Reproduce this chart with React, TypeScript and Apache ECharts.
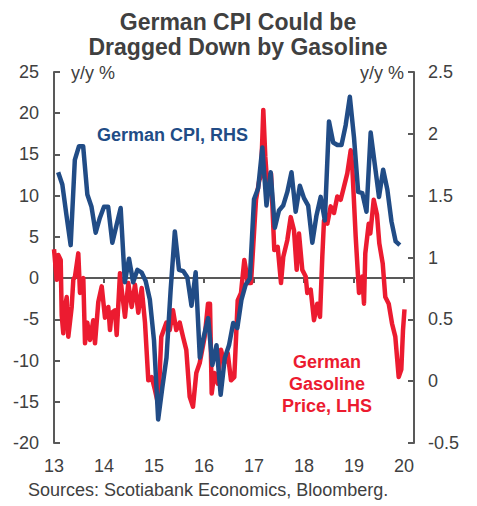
import React, { useEffect, useRef } from 'react';
import * as echarts from 'echarts';

const FONT = '"Liberation Sans", Arial, Helvetica, sans-serif';
const BLUE = '#214C86';
const RED = '#EC1B30';
const AXIS = '#595959';
const TEXT = '#404040';

// Monthly German CPI y/y % (RHS), Jan 2013 .. Nov 2019
const cpiValues = [
  1.69, 1.59, 1.34, 1.10, 1.79, 1.90, 1.90, 1.51, 1.41, 1.20, 1.32, 1.41,
  1.41, 1.12, 1.26, 1.40, 0.80, 0.99, 0.80, 0.90, 0.88, 0.81, 0.66, 0.33,
  -0.31, -0.05, 0.19, 0.74, 1.21, 0.90, 0.89, 0.84, 0.61, 0.88, 0.19, 0.37,
  0.51, 0.13, 0.29, -0.11, 0.19, 0.29, 0.47, 0.43, 0.66, 0.78, 0.83, 1.47,
  1.56, 1.89, 1.42, 1.69, 1.24, 1.38, 1.42, 1.53, 1.69, 1.37, 1.58, 1.48,
  1.42, 1.12, 1.34, 1.49, 1.30, 2.10, 1.93, 1.91, 1.91, 2.07, 2.30, 1.97,
  1.53, 1.52, 1.37, 2.01, 1.75, 1.49, 1.71, 1.55, 1.29, 1.13, 1.10,
];

// German gasoline price y/y % (LHS)
const gasDates = [
  13.0, 13.054, 13.086, 13.134, 13.154, 13.186, 13.22, 13.254, 13.286, 13.354,
  13.386, 13.42, 13.486, 13.52, 13.554, 13.586, 13.62, 13.666, 13.72, 13.786,
  13.82, 13.886, 13.954, 14.02, 14.086, 14.12, 14.154, 14.22, 14.254, 14.32,
  14.354, 14.42, 14.486, 14.554, 14.62, 14.686, 14.754, 14.82, 14.886, 14.954,
  15.02, 15.086, 15.146, 15.246, 15.314, 15.38, 15.446, 15.514, 15.58, 15.646,
  15.714, 15.78, 15.846, 15.914, 16.014, 16.08, 16.12, 16.154, 16.206, 16.274,
  16.34, 16.406, 16.474, 16.54, 16.606, 16.674, 16.74, 16.806, 16.84, 16.874,
  16.94, 17.04, 17.106, 17.14, 17.186, 17.226, 17.274, 17.34, 17.406, 17.474,
  17.54, 17.586, 17.666, 17.734, 17.8, 17.854, 17.9, 17.966, 18.034, 18.066,
  18.134, 18.2, 18.266, 18.32, 18.366, 18.4, 18.466, 18.534, 18.6, 18.666,
  18.734, 18.8, 18.866, 18.934, 18.966, 19.034, 19.1, 19.166, 19.2, 19.226,
  19.294, 19.326, 19.36, 19.394, 19.46, 19.506, 19.574, 19.626, 19.694, 19.76,
  19.826, 19.894, 19.946, 19.98, 20.01,
];
const gasValues = [
  3.5, -0.2, 2.8, 2.2, -4.5, -6.7, -3.5, -2.3, -7.1, -3.5,
  -0.2, 0.2, 3.0, -1.8, -0.6, 0.0, -7.9, -5.4, -7.5, -5.1,
  -7.9, -2.9, -1.0, -4.8, -3.5, -6.3, -4.2, -3.9, -6.9, 0.6,
  -1.4, -4.7, -0.6, -3.5, -0.8, -4.2, -1.2, -5.4, -12.4, -12.0,
  -13.6, -15.4, -7.1, -5.4, -6.3, -3.9, -6.3, -5.4, -7.1, -8.7,
  -14.4, -15.6, -11.5, -10.3, -7.1, -3.1, -3.1, -14.0, -11.5, -12.8,
  -8.7, -10.3, -9.1, -12.4, -12.0, -2.7, -1.8, 2.2, 1.0, -0.6,
  -0.6, 9.5, 11.9, 12.3, 20.4, 14.7, 10.7, 12.7, 3.4, 3.8,
  -0.6, 2.6, 4.6, 7.4, 5.8, 1.0, 5.4, 1.0, 0.2, -1.8,
  -1.4, -5.1, -3.1, -4.7, 2.6, 7.0, 6.6, 8.7, 7.9, 9.9,
  9.5, 11.1, 12.7, 15.5, 13.5, 5.0, -1.8, 0.2, -3.1, 3.0,
  6.6, 5.4, 7.4, 9.5, 7.7, 4.2, 1.8, -2.3, -3.1, -5.5,
  -7.1, -12.0, -11.1, -6.3, -3.8,
];

const titleLines = ['German CPI Could be', 'Dragged Down by Gasoline'];
const gasLabel = ['German', 'Gasoline', 'Price, LHS'];

export default function App() {
  const ref = useRef<HTMLDivElement>(null);
  useEffect(() => {
    const chart = echarts.init(ref.current!, null, { renderer: 'svg' });
    const cpiData = cpiValues.map((v, i) => [13 + (i + 1) / 12, v]);
    const gasData = gasValues.map((v, i) => [gasDates[i], v]);
    const axisLineStyle = { color: AXIS, width: 2 };
    chart.setOption({
      animation: false,
      backgroundColor: '#ffffff',
      textStyle: { fontFamily: FONT },
      grid: { left: 54, right: 63, top: 72, bottom: 63, containLabel: false },
      xAxis: [
        {
          type: 'value', min: 13, max: 20.2, interval: 1, position: 'bottom',
          axisLine: { show: false, onZero: false },
          axisTick: { show: false },
          splitLine: { show: false },
          axisLabel: {
            fontSize: 18, color: TEXT, margin: 14, fontFamily: FONT,
            formatter: (v: number) => (Math.abs(v - Math.round(v)) < 1e-6 ? String(Math.round(v)) : ''),
          },
        },
        {
          type: 'value', min: 13, max: 20.2, interval: 1, position: 'bottom',
          axisLine: { show: true, onZero: true, onZeroAxisIndex: 0, lineStyle: axisLineStyle },
          axisTick: { show: true, inside: false, length: 5, lineStyle: axisLineStyle },
          axisLabel: { show: false },
          splitLine: { show: false },
        },
      ],
      yAxis: [
        {
          type: 'value', min: -20, max: 25, interval: 5, position: 'left',
          axisLine: { show: true, onZero: false, lineStyle: axisLineStyle },
          axisTick: { show: true, inside: true, length: 6, lineStyle: axisLineStyle },
          axisLabel: { fontSize: 18, color: TEXT, margin: 15, fontFamily: FONT },
          splitLine: { show: false },
        },
        {
          type: 'value', min: -0.5, max: 2.5, interval: 0.5, position: 'right',
          axisLine: { show: true, onZero: false, lineStyle: axisLineStyle },
          axisTick: { show: true, inside: true, length: 6, lineStyle: axisLineStyle },
          axisLabel: { fontSize: 18, color: TEXT, margin: 14, fontFamily: FONT },
          splitLine: { show: false },
        },
      ],
      series: [
        {
          type: 'line', name: 'German Gasoline Price, LHS', xAxisIndex: 0, yAxisIndex: 0,
          data: gasData, symbol: 'none', z: 2,
          lineStyle: { color: RED, width: 4.5, join: 'round' },
        },
        {
          type: 'line', name: 'German CPI, RHS', xAxisIndex: 0, yAxisIndex: 1,
          data: cpiData, symbol: 'none', z: 3,
          lineStyle: { color: BLUE, width: 4.5, join: 'round' },
        },
      ],
      graphic: [
        ...titleLines.map((t, i) => ({
          type: 'text', x: 238, y: 22 + i * 25,
          style: { text: t, fill: TEXT, font: `bold 23px ${FONT}`, textAlign: 'center', textVerticalAlign: 'middle' },
        })),
        {
          type: 'text', x: 71, y: 73,
          style: { text: 'y/y %', fill: TEXT, font: `18px ${FONT}`, textAlign: 'left', textVerticalAlign: 'middle' },
        },
        {
          type: 'text', x: 404, y: 73,
          style: { text: 'y/y %', fill: TEXT, font: `18px ${FONT}`, textAlign: 'right', textVerticalAlign: 'middle' },
        },
        {
          type: 'text', x: 97, y: 135,
          style: { text: 'German CPI, RHS', fill: BLUE, font: `bold 18px ${FONT}`, textAlign: 'left', textVerticalAlign: 'middle' },
        },
        ...gasLabel.map((t, i) => ({
          type: 'text', x: 327, y: 362 + i * 22,
          style: { text: t, fill: RED, font: `bold 18px ${FONT}`, textAlign: 'center', textVerticalAlign: 'middle' },
        })),
        {
          type: 'text', x: 28, y: 490,
          style: { text: 'Sources: Scotiabank Economics, Bloomberg.', fill: TEXT, font: `18px ${FONT}`, textAlign: 'left', textVerticalAlign: 'middle' },
        },
      ],
    });
    return () => chart.dispose();
  }, []);
  return <div ref={ref} style={{ position: 'absolute', left: 0, top: 0, width: 477, height: 506 }} />;
}
